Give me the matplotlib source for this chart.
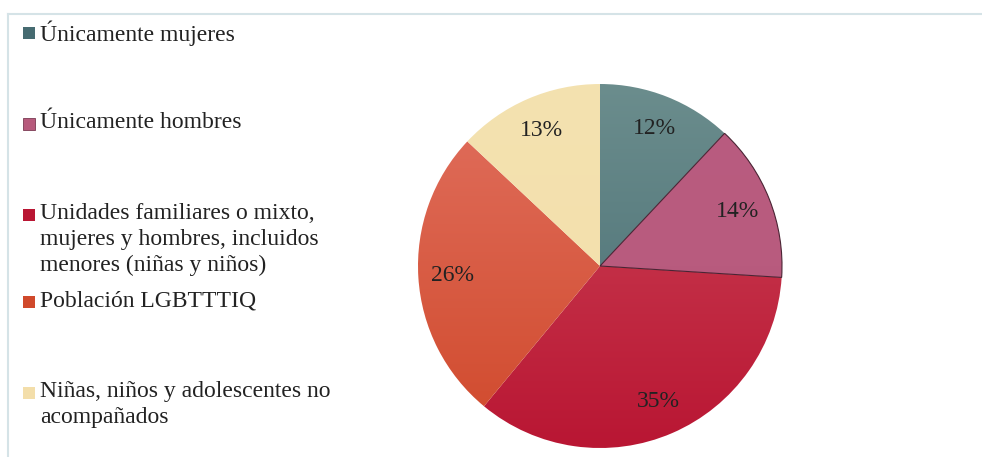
import numpy as np
import matplotlib
matplotlib.use("Agg")
import matplotlib.pyplot as plt
from matplotlib.colors import LinearSegmentedColormap
from matplotlib.patches import Rectangle

plt.rcParams['font.family'] = ['Liberation Serif', 'DejaVu Serif']

# data
categories = ["Únicamente mujeres",
              "Únicamente hombres",
              "Unidades familiares o mixto,\nmujeres y hombres, incluidos\nmenores (niñas y niños)",
              "Población LGBTTTIQ",
              "Niñas, niños y adolescentes no\nacompañados"]
values = [12, 14, 35, 26, 13]
# gradient colours (top, bottom) for each slice
top_colors = ["#6b8d8d", "#b95c80", "#cd4759", "#e1705f", "#f4e2b0"]
bot_colors = ["#466b71", "#b75a7c", "#b91633", "#d0492b", "#f3deaa"]
edge_colors = ["none", "#4a2434", "none", "none", "none"]

fig = plt.figure(figsize=[9.82, 4.57], dpi=100)

# frame lines top / left
fig.add_artist(plt.Line2D([8/982, 1], [1 - 14/457] * 2, color="#d5e3e7", lw=1.5))
fig.add_artist(plt.Line2D([8/982] * 2, [0, 1 - 14/457], color="#d5e3e7", lw=1.5))

cx, cy, r = 600, 266, 182
ax = fig.add_axes([(cx - r) / 982, (457 - cy - r) / 457, 2 * r / 982, 2 * r / 457])

wedges, texts, autotexts = ax.pie(values, startangle=90, counterclock=False,
                                  radius=1.0, autopct='%1.0f%%', pctdistance=0.81,
                                  textprops=dict(fontsize=17, color="#222222"))
grad = np.linspace(0, 1, 256).reshape(-1, 1)
for i, w in enumerate(wedges):
    w.set_facecolor("none")
    w.set_edgecolor(edge_colors[i])
    w.set_linewidth(0.8)
    cmap = LinearSegmentedColormap.from_list("g%d" % i, [top_colors[i], bot_colors[i]])
    im = ax.imshow(grad, cmap=cmap, extent=[-1, 1, -1, 1], origin="upper",
                   aspect="auto", zorder=0.5)
    im.set_clip_path(w)
    w.set_zorder(1)
for t in autotexts:
    t.set_zorder(3)
ax.set_xlim(-1, 1)
ax.set_ylim(-1, 1)
ax.set_aspect("equal")
ax.axis("off")

# legend (manual placement like the original)
leg_y = [33, 124, 215, 302, 393]
for i, lab in enumerate(categories):
    y = 1 - leg_y[i] / 457
    fig.add_artist(Rectangle((23/982, y - 6/457), 12/982, 12/457,
                             facecolor=bot_colors[i], edgecolor="#7a3a52" if i == 1 else "none",
                             lw=0.6, transform=fig.transFigure))
    fig.text(40/982, y + 12/457, lab, fontsize=17, color="#222222", va="top", linespacing=1.3)

fig.savefig("out.png", dpi=100)
